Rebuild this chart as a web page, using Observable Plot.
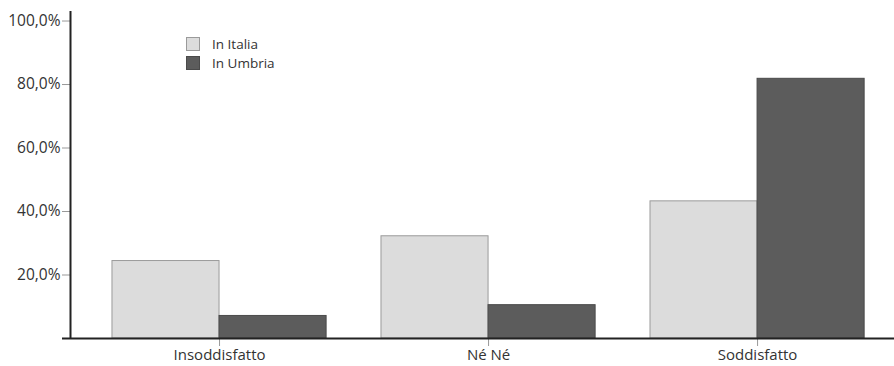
<!DOCTYPE html>
<html>
<head>
<meta charset="utf-8">
<script src="https://cdn.jsdelivr.net/npm/d3@7"></script>
<script src="https://cdn.jsdelivr.net/npm/@observablehq/plot@0.6"></script>
<style>
  body { margin: 0; background: #fff; font-family: "Open Sans", sans-serif; }
  #wrap { position: relative; width: 894px; height: 366px; }
  #legend { position: absolute; left: 186px; top: 35px; font-size: 13.5px; color: #333; }
  #legend .item { display: flex; align-items: center; height: 18.5px; }
  #legend .sw { width: 14px; height: 14px; box-sizing: border-box; margin-right: 12px; flex: none; }
  #legend .tx { display: block; line-height: 18.5px; height: 18.5px; }
</style>
</head>
<body>
<div id="wrap"></div>
<script>
const categories = ["Insoddisfatto", "Né Né", "Soddisfatto"];
const series = ["In Italia", "In Umbria"];
const italia = [24.4, 32.2, 43.2];
const umbria = [7.1, 10.5, 81.8];
const yTicks = [20, 40, 60, 80, 100];
const colors = {"In Italia": "#dcdcdc", "In Umbria": "#5c5c5c"};
const strokes = {"In Italia": "#9a9a9a", "In Umbria": "#4a4a4a"};

const barW = 0.398;
const xDomain = [-0.554, 2.509];
const yDomain = [0, 103];

const rows = [];
categories.forEach((c, i) => {
  rows.push({cat: c, s: series[0], x1: i - barW, x2: i, v: italia[i]});
  rows.push({cat: c, s: series[1], x1: i, x2: i + barW, v: umbria[i]});
});

const plot = Plot.plot({
  width: 894,
  height: 366,
  marginLeft: 70,
  marginRight: 0,
  marginTop: 11,
  marginBottom: 28,
  style: {fontFamily: "Open Sans, sans-serif", fontSize: "15px", color: "#333"},
  x: {domain: xDomain},
  y: {domain: yDomain},
  marks: [
    Plot.rectY(rows, {x1: "x1", x2: "x2", y: "v", fill: d => colors[d.s], stroke: d => strokes[d.s], strokeWidth: 1}),
    Plot.axisY({ticks: yTicks, tickSize: 8, tickPadding: 2, stroke: "#999", label: null, tickFormat: d => d.toFixed(1).replace(".", ",") + "%", fill: "#333", fontSize: 15.5}),
    Plot.axisX({ticks: [0, 1, 2], tickSize: 8, tickPadding: 3, stroke: "#999", label: null, tickFormat: i => categories[i], fill: "#333", fontSize: 15}),
    Plot.ruleX([xDomain[0]], {y1: yDomain[0], y2: yDomain[1], stroke: "#222", strokeWidth: 2}),
    Plot.ruleY([0], {stroke: "#222", strokeWidth: 2, insetLeft: -8})
  ]
});
document.getElementById("wrap").appendChild(plot);

const legend = document.createElement("div");
legend.id = "legend";
series.forEach(s => {
  const it = document.createElement("div");
  it.className = "item";
  const sw = document.createElement("span");
  sw.className = "sw";
  sw.style.background = colors[s];
  sw.style.border = "1px solid " + strokes[s];
  const t = document.createElement("span");
  t.className = "tx";
  t.textContent = s;
  it.appendChild(sw); it.appendChild(t);
  legend.appendChild(it);
});
document.getElementById("wrap").appendChild(legend);
</script>
</body>
</html>
